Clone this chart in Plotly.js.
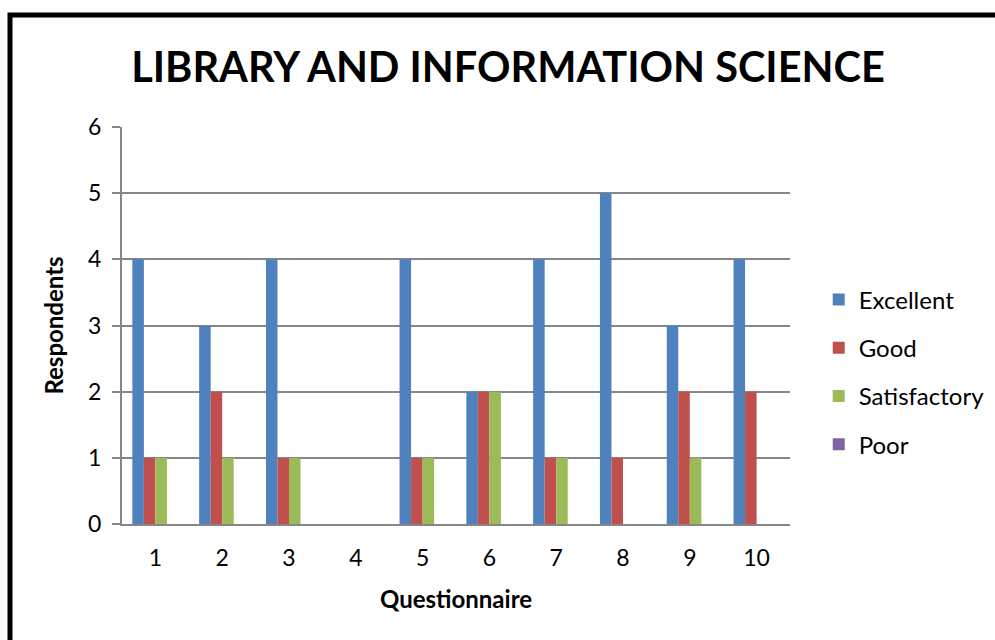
<!DOCTYPE html>
<html>
<head>
<meta charset="utf-8">
<script src="https://cdn.plot.ly/plotly-3.0.1.min.js"></script>
<style>html,body{margin:0;padding:0;background:#fff;} #chart{width:995px;height:640px;}</style>
</head>
<body>
<div id="chart"></div>
<script>
const categories = ['1','2','3','4','5','6','7','8','9','10'];
const excellent = [4,3,4,0,4,2,4,5,3,4];
const good = [1,2,1,0,1,2,1,1,2,2];
const satisfactory = [1,1,1,0,1,2,1,0,1,0];
const poor = [0,0,0,0,0,0,0,0,0,0];
const seriesNames = ['Excellent','Good','Satisfactory','Poor'];
const seriesColors = ['#4F81BD','#C0504D','#9BBB59','#8064A2'];
const yTicks = [0,1,2,3,4,5,6];

const fontFam = 'Lato, "Open Sans", sans-serif';
const data = [excellent, good, satisfactory, poor].map((vals, i) => ({
  type: 'bar',
  x: categories,
  y: vals,
  name: seriesNames[i],
  legendgroup: 'g' + i,
  marker: {color: seriesColors[i]}
}));

const layout = {
  width: 995, height: 640,
  paper_bgcolor: '#fff', plot_bgcolor: '#fff',
  margin: {l: 122, r: 205, t: 127, b: 116, autoexpand: false},
  barmode: 'group', bargap: 0.31, bargroupgap: 0,
  font: {family: fontFam, color: '#000', size: 23},
  title: {text: '<b>LIBRARY AND INFORMATION SCIENCE</b>', font: {size: 41.5, family: fontFam, color: '#000'},
          x: 508 / 995, xref: 'container', xanchor: 'center', y: 0.895, yanchor: 'middle'},
  xaxis: {
    type: 'category', showgrid: false, showline: true, linecolor: '#868686', linewidth: 2,
    ticks: '', tickfont: {size: 23}, ticklabelstandoff: 12,
    title: {text: '<b>Questionnaire</b>', font: {size: 24}, standoff: 22}
  },
  yaxis: {
    range: [0, 6], tickvals: yTicks, showgrid: true, gridcolor: '#868686', gridwidth: 1.5,
    showline: true, linecolor: '#868686', linewidth: 2, zeroline: false,
    ticks: 'outside', ticklen: 8, tickcolor: '#868686', tickwidth: 1.5,
    tickfont: {size: 23}, ticklabelstandoff: 6,
    title: {text: '<b>Respondents</b>', font: {size: 24}, standoff: 18}
  },
  legend: {x: 1.043, xanchor: 'left', y: 0.383, yanchor: 'middle',
           font: {size: 24}, traceorder: 'grouped', tracegroupgap: 14,
           itemwidth: 30, bgcolor: 'rgba(0,0,0,0)'},
  shapes: [{type: 'rect', xref: 'paper', yref: 'paper',
            x0: (10 - 122) / 668, x1: 1.5, y0: -0.5, y1: (524 - 15) / 397,
            line: {color: '#000', width: 5}, fillcolor: 'rgba(0,0,0,0)', layer: 'above'}]
};

Plotly.newPlot('chart', data, layout, {displayModeBar: false});
</script>
</body>
</html>
